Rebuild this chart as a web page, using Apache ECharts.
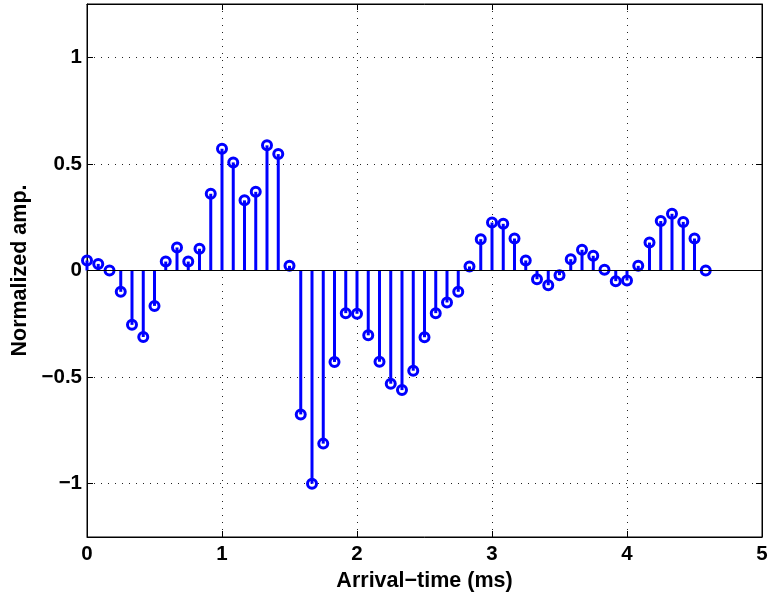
<!DOCTYPE html>
<html>
<head>
<meta charset="utf-8">
<script src="https://cdn.jsdelivr.net/npm/echarts@6/dist/echarts.min.js"></script>
<style>html,body{margin:0;padding:0;background:#fff;}#c{width:771px;height:597px;}</style>
</head>
<body>
<div id="c"></div>
<script>
var times = [0, 0.0833, 0.1667, 0.25, 0.3333, 0.4167, 0.5, 0.5833, 0.6667, 0.75, 0.8333, 0.9167,
  1, 1.0833, 1.1667, 1.25, 1.3333, 1.4167, 1.5, 1.5833, 1.6667, 1.75, 1.8333, 1.9167,
  2, 2.0833, 2.1667, 2.25, 2.3333, 2.4167, 2.5, 2.5833, 2.6667, 2.75, 2.8333, 2.9167,
  3, 3.0833, 3.1667, 3.25, 3.3333, 3.4167, 3.5, 3.5833, 3.6667, 3.75, 3.8333, 3.9167,
  4, 4.0833, 4.1667, 4.25, 4.3333, 4.4167, 4.5, 4.5833];
var amps = [0.047, 0.031, 0.0, -0.10, -0.255, -0.312, -0.166, 0.042, 0.108, 0.042,
  0.102, 0.36, 0.571, 0.507, 0.329, 0.369, 0.587, 0.546, 0.022, -0.675,
  -1.0, -0.812, -0.429, -0.2, -0.203, -0.304, -0.428, -0.531, -0.561, -0.47,
  -0.313, -0.2, -0.15, -0.10, 0.019, 0.147, 0.225, 0.219, 0.15, 0.047,
  -0.041, -0.069, -0.022, 0.053, 0.097, 0.069, 0.003, -0.05, -0.047, 0.022,
  0.131, 0.232, 0.266, 0.228, 0.15, 0.0];
var xTicks = [0, 1, 2, 3, 4, 5];
var yTicks = [-1, -0.5, 0, 0.5, 1];
var xTitle = 'Arrival\u2212time (ms)';
var yTitle = 'Normalized amp.';

var pts = times.map(function (t, i) { return [t, amps[i]]; });
var fmt = function (v) { return String(v).replace('-', '\u2212'); };
var font = 'Liberation Sans';
var gridLine = { show: true, lineStyle: { color: '#222', width: 1, type: [1, 6] } };

var chart = echarts.init(document.getElementById('c'), null, { renderer: 'canvas' });
chart.setOption({
  animation: false,
  backgroundColor: '#fff',
  grid: { left: 87, right: 9, top: 4, bottom: 60, show: true, borderColor: '#000', borderWidth: 1, backgroundColor: 'transparent' },
  xAxis: [{
    type: 'value', min: 0, max: 5, position: 'bottom',
    name: xTitle, nameLocation: 'middle', nameGap: 28,
    nameTextStyle: { fontFamily: font, fontWeight: 'bold', fontSize: 21.5, color: '#000' },
    axisLine: { show: true, onZero: false, lineStyle: { color: '#000', width: 1 } },
    axisTick: { show: true, inside: true, length: 6, customValues: xTicks, lineStyle: { color: '#000' } },
    axisLabel: { fontFamily: font, fontWeight: 'bold', fontSize: 20.5, color: '#000', margin: 7, customValues: xTicks, formatter: fmt },
    splitLine: gridLine
  }, {
    type: 'value', min: 0, max: 5, position: 'top',
    axisLine: { show: true, onZero: false, lineStyle: { color: '#000' } },
    axisTick: { show: true, inside: true, length: 6, customValues: xTicks, lineStyle: { color: '#000' } },
    axisLabel: { show: false }, splitLine: { show: false }
  }],
  yAxis: [{
    type: 'value', min: -1.25, max: 1.25, position: 'left',
    name: yTitle, nameLocation: 'middle', nameGap: 55, nameRotate: 90,
    nameTextStyle: { fontFamily: font, fontWeight: 'bold', fontSize: 21.5, color: '#000' },
    axisLine: { show: true, onZero: false, lineStyle: { color: '#000', width: 1 } },
    axisTick: { show: true, inside: true, length: 6, customValues: yTicks, lineStyle: { color: '#000' } },
    axisLabel: { fontFamily: font, fontWeight: 'bold', fontSize: 20.5, color: '#000', margin: 5, customValues: yTicks, formatter: fmt },
    splitLine: gridLine
  }, {
    type: 'value', min: -1.25, max: 1.25, position: 'right',
    axisLine: { show: true, onZero: false, lineStyle: { color: '#000' } },
    axisTick: { show: true, inside: true, length: 6, customValues: yTicks, lineStyle: { color: '#000' } },
    axisLabel: { show: false }, splitLine: { show: false }
  }],
  series: [{
    type: 'custom',
    xAxisIndex: 0, yAxisIndex: 0,
    data: pts,
    silent: true,
    renderItem: function (params, api) {
      var p0 = api.coord([api.value(0), 0]);
      var p1 = api.coord([api.value(0), api.value(1)]);
      return { type: 'line', shape: { x1: p0[0], y1: p0[1], x2: p1[0], y2: p1[1] },
        style: { stroke: '#0000ff', lineWidth: 3 } };
    },
    z: 2
  }, {
    type: 'scatter',
    xAxisIndex: 0, yAxisIndex: 0,
    data: pts,
    symbol: 'circle', symbolSize: 9,
    itemStyle: { color: 'rgba(0,0,0,0)', borderColor: '#0000ff', borderWidth: 3, opacity: 1 },
    markLine: {
      silent: true, symbol: 'none', animation: false,
      label: { show: false },
      lineStyle: { color: '#000', width: 1, type: 'solid' },
      data: [{ yAxis: 0 }]
    },
    z: 3
  }]
});
</script>
</body>
</html>
